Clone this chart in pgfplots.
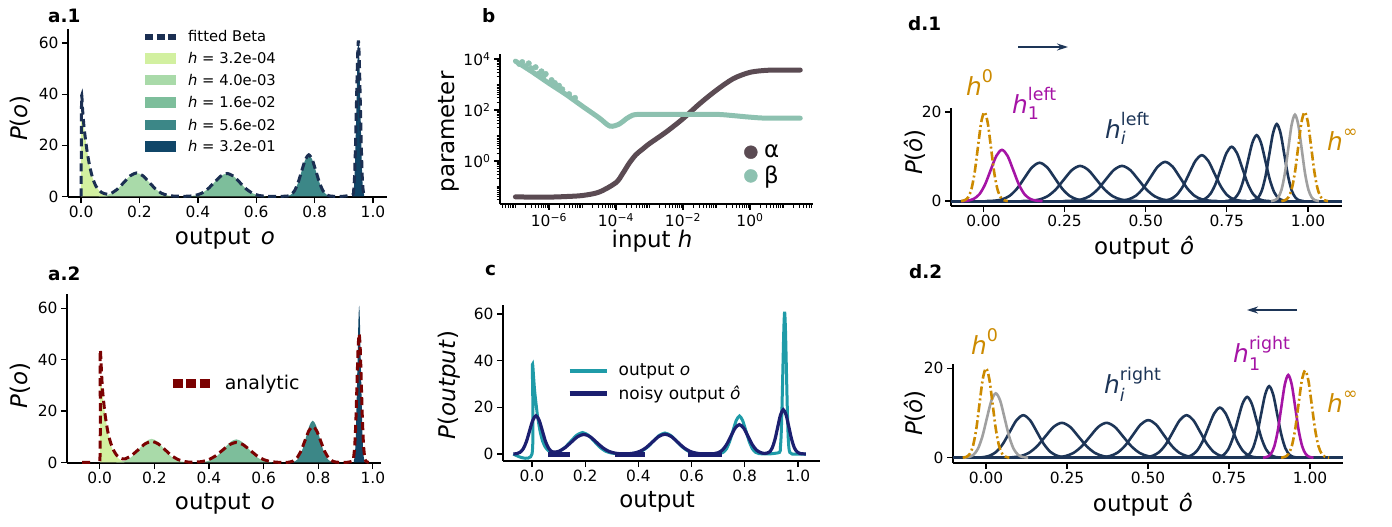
\documentclass[border=0pt]{standalone}
\usepackage{fontspec}
\setmainfont{DejaVu Sans}
\usepackage{amsmath}
\usepackage{pgfplots}
\pgfplotsset{compat=1.18}
\usetikzlibrary{arrows.meta}

\definecolor{cA}{HTML}{D2F0A0}
\definecolor{cB}{HTML}{A9DAA9}
\definecolor{cC}{HTML}{7DBE9B}
\definecolor{cD}{HTML}{3C8787}
\definecolor{cE}{HTML}{104668}
\definecolor{fitnavy}{HTML}{1B2F52}
\definecolor{anred}{HTML}{7B0202}
\definecolor{alphac}{HTML}{5B4B53}
\definecolor{betac}{HTML}{8DC1B0}
\definecolor{tealc}{HTML}{1F9BA8}
\definecolor{noisyc}{HTML}{1B1F70}
\definecolor{dnavy}{HTML}{1D3557}
\definecolor{dpurple}{HTML}{A514A5}
\definecolor{dorange}{HTML}{CC8A00}
\definecolor{dgray}{HTML}{A0A0A0}

\pgfplotsset{
  base/.style={
    scale only axis,
    anchor=south west,
    axis x line*=bottom, axis y line*=left,
    axis line style={-, line width=1.5bp, black},
    tick align=outside,
    major tick length=6bp,
    minor tick length=3.5bp,
    major tick style={line width=1.3bp, black},
    minor tick style={line width=0.9bp, black},
    tick label style={font=\fontsize{15.5}{18}\selectfont},
    label style={font=\fontsize{23}{27}\selectfont},
    xlabel style={anchor=center},
    ylabel style={anchor=center},
    /pgf/number format/assume math mode=true,
    legend cell align=left,
  },
  lin01/.style={xtick={0,0.2,0.4,0.6,0.8,1}, xticklabels={0.0,0.2,0.4,0.6,0.8,1.0},
    ytick={0,20,40,60}, yticklabels={0,20,40,60}},
  dax/.style={xtick={0,0.25,0.5,0.75,1}, xticklabels={0.00,0.25,0.50,0.75,1.00},
    ytick={0,20}, yticklabels={0,20}},
  navyc/.style={dnavy, line width=2.6bp, smooth, forget plot},
  dashdot/.style={dorange, line width=2.6bp, smooth, forget plot, dash pattern=on 9bp off 3bp on 2bp off 3bp},
}

\newcommand{\annot}[1]{\fontsize{25}{30}\selectfont #1}

\begin{document}
\begin{tikzpicture}
\useasboundingbox (0,0) rectangle (1392bp,-527bp);

% ---------------- a.1 ----------------
\begin{axis}[base, lin01,
  at={(68bp,-197bp)}, width=319bp, height=168bp,
  xmin=-0.045, xmax=1.048, ymin=-0.2, ymax=65.5,
  xlabel={output\hspace{0.45em}\textit{o}}, ylabel={\textit{P}(\textit{o})},
  xlabel style={at={(axis description cs:0.492,-0.25)}},
  ylabel style={at={(axis description cs:-0.15,0.47)}},
]
\addplot[fill=cA, draw=none, forget plot] coordinates {(0,0)(0,34)(0.005,31)(0.01,27)(0.02,18)(0.03,11.5)(0.04,7)(0.05,4.2)(0.06,2.5)(0.07,1.4)(0.08,0.7)(0.09,0.3)} \closedcycle;
\addplot[fill=cB, draw=none, smooth, forget plot] coordinates {(0.061,0.10)(0.0825,0.40)(0.104,1.24)(0.1255,2.99)(0.147,5.58)(0.1685,8.11)(0.19,9.2)(0.2115,8.11)(0.233,5.58)(0.2545,2.99)(0.276,1.24)(0.2975,0.40)(0.319,0.10)} \closedcycle;
\addplot[fill=cC, draw=none, smooth, forget plot] coordinates {(0.368,0.10)(0.39,0.40)(0.412,1.22)(0.434,2.93)(0.456,5.46)(0.478,7.94)(0.5,9.0)(0.522,7.94)(0.544,5.46)(0.566,2.93)(0.588,1.22)(0.61,0.40)(0.632,0.10)} \closedcycle;
\addplot[fill=cD, draw=none, smooth, forget plot] coordinates {(0.7065,0.18)(0.719,0.72)(0.731,2.20)(0.743,5.30)(0.7555,9.89)(0.768,14.38)(0.78,16.3)(0.792,14.38)(0.8045,9.89)(0.817,5.30)(0.829,2.20)(0.841,0.72)(0.8535,0.18)} \closedcycle;
\addplot[fill=cE, draw=none, smooth, forget plot] coordinates {(0.9305,0.67)(0.934,2.68)(0.937,8.24)(0.940,19.8)(0.9435,37.0)(0.947,53.8)(0.95,61)(0.953,53.8)(0.9565,37.0)(0.960,19.8)(0.963,8.24)(0.966,2.68)(0.9695,0.67)} \closedcycle;
\addplot[fitnavy, line width=3bp, dash pattern=on 8bp off 4.5bp, smooth, tension=0.4, forget plot] coordinates {(0,0)(0.0015,38.5)(0.005,34)(0.01,27)(0.02,18)(0.03,11.5)(0.04,7)(0.05,4.2)(0.06,2.6)(0.07,1.6)(0.08,1.1)(0.09,0.9)(0.104,1.3)(0.1255,2.99)(0.147,5.58)(0.1685,8.11)(0.19,9.2)(0.2115,8.11)(0.233,5.58)(0.2545,2.99)(0.276,1.24)(0.2975,0.45)(0.319,0.15)(0.345,0.08)(0.368,0.12)(0.39,0.40)(0.412,1.22)(0.434,2.93)(0.456,5.46)(0.478,7.94)(0.5,9.0)(0.522,7.94)(0.544,5.46)(0.566,2.93)(0.588,1.22)(0.61,0.40)(0.632,0.10)(0.67,0.02)(0.7065,0.18)(0.719,0.72)(0.731,2.20)(0.743,5.30)(0.7555,9.89)(0.768,14.38)(0.78,16.3)(0.792,14.38)(0.8045,9.89)(0.817,5.30)(0.829,2.20)(0.841,0.72)(0.8535,0.18)(0.89,0.02)(0.9305,0.67)(0.934,2.68)(0.937,8.24)(0.940,19.8)(0.9435,37.0)(0.947,53.8)(0.95,61)(0.953,53.8)(0.9565,37.0)(0.960,19.8)(0.963,8.24)(0.966,2.68)(0.9695,0.67)(0.975,0)};
\end{axis}

% legend of a.1
\draw[fitnavy, line width=6bp, dash pattern=on 8bp off 3.5bp] (145bp,-36.7bp) -- (176bp,-36.7bp);
\fill[cA] (145bp,-53bp) rectangle (176bp,-63.7bp);
\fill[cB] (145bp,-74.7bp) rectangle (176bp,-85.3bp);
\fill[cC] (145bp,-97.3bp) rectangle (176bp,-108bp);
\fill[cD] (145bp,-119.7bp) rectangle (176bp,-130.3bp);
\fill[cE] (145bp,-141.3bp) rectangle (176bp,-152bp);
\begin{scope}[every node/.style={font=\fontsize{14.8}{17}\selectfont, inner sep=0pt, anchor=base west}]
\node at (188bp,-41.7bp) {fitted Beta};
\node at (188bp,-63.3bp) {\textit{h} = 3.2e-04};
\node at (188bp,-85bp) {\textit{h} = 4.0e-03};
\node at (188bp,-107.7bp) {\textit{h} = 1.6e-02};
\node at (188bp,-130bp) {\textit{h} = 5.6e-02};
\node at (188bp,-151.7bp) {\textit{h} = 3.2e-01};
\end{scope}

% ---------------- a.2 ----------------
\begin{axis}[base, lin01,
  at={(67bp,-463bp)}, width=314bp, height=169bp,
  xmin=-0.12, xmax=1.03, ymin=-0.2, ymax=65.5,
  xlabel={output\hspace{0.45em}\textit{o}}, ylabel={\textit{P}(\textit{o})},
  xlabel style={at={(axis description cs:0.503,-0.243)}},
  ylabel style={at={(axis description cs:-0.15,0.46)}},
  legend style={at={(axis description cs:0.322,0.473)}, anchor=west, draw=none, fill=none,
    inner sep=0pt, outer sep=0pt, font=\fontsize{19}{22}\selectfont, nodes={inner sep=0pt}},
]
\addlegendimage{legend image code/.code={\draw[anred, line width=9bp, dash pattern=on 10bp off 3.5bp] (0bp,0bp) -- (37bp,0bp); \path (0bp,-6bp) (52bp,6bp);}}
\addlegendentry{analytic}
\addplot[fill=cA, draw=none, forget plot] coordinates {(0,0)(0,34)(0.005,31)(0.01,27)(0.02,18)(0.03,11.5)(0.04,7)(0.05,4.2)(0.06,2.5)(0.07,1.4)(0.08,0.7)(0.09,0.3)} \closedcycle;
\addplot[fill=cB, draw=none, smooth, forget plot] coordinates {(0.061,0.10)(0.0825,0.40)(0.104,1.24)(0.1255,2.99)(0.147,5.58)(0.1685,8.11)(0.19,9.2)(0.2115,8.11)(0.233,5.58)(0.2545,2.99)(0.276,1.24)(0.2975,0.40)(0.319,0.10)} \closedcycle;
\addplot[fill=cC, draw=none, smooth, forget plot] coordinates {(0.368,0.10)(0.39,0.40)(0.412,1.22)(0.434,2.93)(0.456,5.46)(0.478,7.94)(0.5,9.0)(0.522,7.94)(0.544,5.46)(0.566,2.93)(0.588,1.22)(0.61,0.40)(0.632,0.10)} \closedcycle;
\addplot[fill=cD, draw=none, smooth, forget plot] coordinates {(0.7065,0.18)(0.719,0.72)(0.731,2.20)(0.743,5.30)(0.7555,9.89)(0.768,14.38)(0.78,16.3)(0.792,14.38)(0.8045,9.89)(0.817,5.30)(0.829,2.20)(0.841,0.72)(0.8535,0.18)} \closedcycle;
\addplot[fill=cE, draw=none, smooth, forget plot] coordinates {(0.9305,0.67)(0.934,2.68)(0.937,8.24)(0.940,19.8)(0.9435,37.0)(0.947,53.8)(0.95,61)(0.953,53.8)(0.9565,37.0)(0.960,19.8)(0.963,8.24)(0.966,2.68)(0.9695,0.67)} \closedcycle;
\addplot[anred, line width=3bp, dash pattern=on 8bp off 4.5bp, smooth, tension=0.4, forget plot] coordinates {(-0.065,0)(-0.03,0)(0,0)(0.0015,42.5)(0.005,38)(0.01,28.3)(0.02,18.2)(0.03,11.7)(0.04,7.6)(0.05,4.9)(0.06,3.1)(0.07,2.0)(0.08,1.5)(0.0927,1.4)(0.117,2.8)(0.1413,4.98)(0.1657,7.23)(0.19,8.2)(0.2143,7.23)(0.2387,4.98)(0.263,2.67)(0.2874,1.11)(0.3118,0.36)(0.3361,0.1)(0.3725,0.34)(0.398,1.05)(0.4235,2.54)(0.449,4.73)(0.4745,6.88)(0.5,7.8)(0.5255,6.88)(0.551,4.73)(0.5765,2.54)(0.602,1.05)(0.6275,0.34)(0.653,0.09)(0.68,0.03)(0.6945,0.15)(0.7088,0.62)(0.723,1.89)(0.7373,4.55)(0.7515,8.50)(0.7658,12.35)(0.78,14)(0.7943,12.35)(0.8085,8.50)(0.8228,4.55)(0.837,1.89)(0.8513,0.62)(0.8655,0.15)(0.9,0.02)(0.926,0.55)(0.93,2.2)(0.934,6.75)(0.938,16.25)(0.942,30.35)(0.946,44.1)(0.95,50)(0.954,44.1)(0.958,30.35)(0.962,16.25)(0.966,6.75)(0.97,2.2)(0.974,0.55)(0.985,0)};
\end{axis}

% ---------------- b ----------------
\begin{axis}[base,
  at={(500bp,-204bp)}, width=313bp, height=150bp,
  xmode=log, ymode=log,
  xmin=3.47e-8, xmax=75.9, ymin=0.0204, ymax=15849,
  xtick={1e-6,1e-4,1e-2,1},
  xticklabels={10\textsuperscript{−6},10\textsuperscript{−4},10\textsuperscript{−2},10\textsuperscript{0}},
  ytick={1,100,10000},
  yticklabels={10\textsuperscript{0},10\textsuperscript{2},10\textsuperscript{4}},
  minor xtick={4e-8,5e-8,6e-8,7e-8,8e-8,9e-8,1e-7,2e-7,3e-7,4e-7,5e-7,6e-7,7e-7,8e-7,9e-7,2e-6,3e-6,4e-6,5e-6,6e-6,7e-6,8e-6,9e-6,1e-5,2e-5,3e-5,4e-5,5e-5,6e-5,7e-5,8e-5,9e-5,2e-4,3e-4,4e-4,5e-4,6e-4,7e-4,8e-4,9e-4,1e-3,2e-3,3e-3,4e-3,5e-3,6e-3,7e-3,8e-3,9e-3,2e-2,3e-2,4e-2,5e-2,6e-2,7e-2,8e-2,9e-2,0.1,0.2,0.3,0.4,0.5,0.6,0.7,0.8,0.9,2,3,4,5,6,7,8,9,10,20,30,40,50,60,70},
  minor ytick={0.03,0.04,0.05,0.06,0.07,0.08,0.09,0.1,0.2,0.3,0.4,0.5,0.6,0.7,0.8,0.9,2,3,4,5,6,7,8,9,10,20,30,40,50,60,70,80,90,200,300,400,500,600,700,800,900,1000,2000,3000,4000,5000,6000,7000,8000,9000},
  xlabel={input \textit{h}}, ylabel={parameter},
  xlabel style={at={(axis description cs:0.486,-0.247)}},
  ylabel style={at={(axis description cs:-0.163,0.48)}},
  legend style={at={(axis description cs:0.78,0.4)}, anchor=north west, draw=none, fill=none,
    inner sep=0pt, outer sep=0pt, row sep=6bp, font=\fontsize{23}{26}\selectfont, nodes={inner sep=0pt}},
]
\addlegendimage{legend image code/.code={\fill[alphac] (6.5bp,0bp) circle (6.5bp); \path (0bp,-8bp) (19.5bp,8bp);}}
\addlegendentry{α}
\addlegendimage{legend image code/.code={\fill[betac] (6.5bp,0bp) circle (6.5bp); \path (0bp,-8bp) (19.5bp,8bp);}}
\addlegendentry{β}
\addplot[alphac, line width=5bp, line cap=round, smooth, forget plot] coordinates {(1e-7,0.039)(3.16e-7,0.038)(1e-6,0.038)(3.16e-6,0.040)(1e-5,0.044)(3.16e-5,0.060)(1e-4,0.141)(1.58e-4,0.316)(2.51e-4,0.83)(3.98e-4,1.78)(6.31e-4,2.95)(1e-3,4.79)(3.16e-3,13.8)(1e-2,45.7)(3.16e-2,178)(0.1,603)(0.316,1700)(1,3020)(3.16,3630)(10,3720)(31.6,3720)};
\addplot[betac, line width=5bp, line cap=round, smooth, forget plot] coordinates {(1e-7,8318)(3.16e-7,3162)(1e-6,1122)(3.16e-6,417)(1e-5,141)(3.16e-5,49)(6.6e-5,23.4)(1.26e-4,28.2)(2e-4,44.7)(3.16e-4,63.1)(5e-4,67.6)(1e-3,67.6)(1e-2,67.6)(0.1,67.6)(0.316,60.3)(1,52.5)(3.16,47.9)(31.6,47.9)};
\addplot[betac, only marks, mark=*, mark size=2.8bp, forget plot] coordinates {(1.3e-7,6500)(1.6e-7,7600)(2e-7,5200)(2.5e-7,6800)(3e-7,4300)(4e-7,4800)(5e-7,2700)(6e-7,3300)(7e-7,2200)(8e-7,2600)(1.2e-6,1500)(1.5e-6,1150)(2e-6,900)(2.5e-6,650)(4e-6,420)(6e-6,300)};
\end{axis}

% ---------------- c ----------------
\begin{axis}[base, lin01,
  at={(503bp,-461bp)}, width=317bp, height=156bp,
  xmin=-0.109, xmax=1.083, ymin=-3, ymax=63.9,
  xlabel={output}, ylabel={\textit{P}(\textit{output})},
  xlabel style={at={(axis description cs:0.486,-0.263)}},
  ylabel style={at={(axis description cs:-0.17,0.487)}},
  legend style={at={(axis description cs:0.202,0.622)}, anchor=north west, draw=none, fill=none,
    inner sep=0pt, outer sep=0pt, row sep=9bp, font=\fontsize{17}{20}\selectfont, nodes={inner sep=0pt}},
]
\addlegendimage{legend image code/.code={\draw[tealc, line width=4bp] (0bp,0bp) -- (37bp,0bp); \path (0bp,-6bp) (49bp,6bp);}}
\addlegendentry{output \textit{o}}
\addlegendimage{legend image code/.code={\draw[noisyc, line width=5bp] (0bp,0bp) -- (37bp,0bp); \path (0bp,-6bp) (49bp,6bp);}}
\addlegendentry{noisy output \textit{ô}}
\addplot[tealc, line width=3bp, smooth, tension=0.4, forget plot] coordinates {(-0.07,0)(0,0)(0.0015,37.5)(0.006,33)(0.01,27)(0.02,17)(0.03,10)(0.04,5.5)(0.05,3)(0.06,1.6)(0.07,0.9)(0.08,0.6)(0.09,0.5)(0.104,1.24)(0.1255,2.99)(0.147,5.58)(0.1685,8.11)(0.19,9.2)(0.2115,8.11)(0.233,5.58)(0.2545,2.99)(0.276,1.24)(0.2975,0.45)(0.319,0.15)(0.345,0.08)(0.368,0.12)(0.39,0.40)(0.412,1.22)(0.434,2.93)(0.456,5.46)(0.478,7.94)(0.5,9.0)(0.522,7.94)(0.544,5.46)(0.566,2.93)(0.588,1.22)(0.61,0.40)(0.632,0.10)(0.67,0.02)(0.7065,0.18)(0.719,0.72)(0.731,2.20)(0.743,5.30)(0.7555,9.89)(0.768,14.38)(0.78,16.3)(0.792,14.38)(0.8045,9.89)(0.817,5.30)(0.829,2.20)(0.841,0.72)(0.8535,0.18)(0.89,0.02)(0.9305,0.67)(0.934,2.68)(0.937,8.24)(0.940,19.8)(0.9435,37.0)(0.947,53.8)(0.95,61)(0.953,53.8)(0.9565,37.0)(0.960,19.8)(0.963,8.24)(0.966,2.68)(0.9695,0.67)(0.978,0)(1.03,0)};
\addplot[noisyc, line width=3.2bp, smooth, forget plot] coordinates {(-0.07,0)(-0.057,0.18)(-0.045,0.72)(-0.033,2.21)(-0.021,5.33)(-0.009,9.95)(0.003,14.46)(0.015,16.4)(0.027,14.46)(0.039,9.95)(0.051,5.33)(0.063,2.4)(0.075,1.0)(0.087,0.8)(0.101,1.15)(0.1245,2.73)(0.148,5.10)(0.1715,7.41)(0.195,8.4)(0.2185,7.41)(0.242,5.10)(0.2655,2.73)(0.289,1.13)(0.3125,0.37)(0.336,0.09)(0.359,0.09)(0.3825,0.37)(0.406,1.15)(0.4295,2.76)(0.453,5.16)(0.4765,7.50)(0.5,8.5)(0.5235,7.50)(0.547,5.16)(0.5705,2.76)(0.594,1.15)(0.6175,0.37)(0.641,0.09)(0.684,0.14)(0.70,0.55)(0.716,1.70)(0.732,4.10)(0.748,7.65)(0.764,11.11)(0.78,12.6)(0.796,11.11)(0.812,7.65)(0.828,4.10)(0.844,1.70)(0.86,0.6)(0.876,0.25)(0.8925,0.84)(0.903,2.57)(0.9135,6.18)(0.924,11.53)(0.9345,16.76)(0.945,19)(0.9555,16.76)(0.966,11.53)(0.9765,6.18)(0.987,2.57)(0.9975,0.84)(1.008,0.21)(1.03,0)};
\addplot[noisyc, line width=4.5bp, forget plot] coordinates {(0.06,-0.3)(0.144,-0.3)};
\addplot[noisyc, line width=4.5bp, forget plot] coordinates {(0.312,-0.3)(0.425,-0.3)};
\addplot[noisyc, line width=4.5bp, forget plot] coordinates {(0.586,-0.3)(0.714,-0.3)};
\end{axis}

% ---------------- d.1 ----------------
\begin{axis}[base, dax,
  at={(951bp,-206bp)}, width=391bp, height=98bp,
  xmin=-0.1, xmax=1.105, ymin=-1.1, ymax=20.9,
  xlabel={output\hspace{0.45em}\textit{ô}}, ylabel={\textit{P}(\textit{ô})},
  xlabel style={at={(axis description cs:0.494,-0.43)}},
  ylabel style={at={(axis description cs:-0.092,0.55)}},
]
\addplot[dnavy, line width=3bp, forget plot] coordinates {(-0.1,0)(1.105,0)};
\addplot[navyc] coordinates {(0.006,0)(0.0338,0.09)(0.057,0.38)(0.0802,1.16)(0.1034,2.80)(0.1266,5.22)(0.1498,7.59)(0.173,8.6)(0.1962,7.59)(0.2194,5.22)(0.2426,2.80)(0.2658,1.16)(0.289,0.38)(0.3122,0.09)(0.34,0)};
\addplot[navyc] coordinates {(0.116,0)(0.1465,0.09)(0.1718,0.35)(0.197,1.07)(0.2223,2.57)(0.2475,4.80)(0.2728,6.97)(0.298,7.9)(0.3233,6.97)(0.3485,4.80)(0.3738,2.57)(0.399,1.07)(0.4243,0.35)(0.4495,0.09)(0.48,0)};
\addplot[navyc] coordinates {(0.245,0)(0.2755,0.09)(0.3008,0.35)(0.326,1.07)(0.3513,2.57)(0.3765,4.80)(0.4018,6.97)(0.427,7.9)(0.4523,6.97)(0.4775,4.80)(0.5028,2.57)(0.528,1.07)(0.5533,0.35)(0.5785,0.09)(0.609,0)};
\addplot[navyc] coordinates {(0.397,0)(0.4241,0.10)(0.4468,0.39)(0.4694,1.19)(0.4921,2.86)(0.5147,5.34)(0.5374,7.76)(0.56,8.8)(0.5827,7.76)(0.6053,5.34)(0.628,2.86)(0.6506,1.19)(0.6733,0.39)(0.6959,0.10)(0.723,0)};
\addplot[navyc] coordinates {(0.534,0)(0.5569,0.11)(0.5763,0.45)(0.5956,1.39)(0.615,3.35)(0.6343,6.25)(0.6537,9.08)(0.673,10.3)(0.6924,9.08)(0.7117,6.25)(0.7311,3.35)(0.7504,1.39)(0.7698,0.45)(0.7891,0.11)(0.812,0)};
\addplot[navyc] coordinates {(0.647,0)(0.6669,0.13)(0.6833,0.54)(0.6996,1.65)(0.716,3.97)(0.7323,7.41)(0.7487,10.76)(0.765,12.2)(0.7814,10.76)(0.7977,7.41)(0.8141,3.97)(0.8304,1.65)(0.8468,0.54)(0.8631,0.13)(0.883,0)};
\addplot[navyc] coordinates {(0.745,0)(0.761,0.16)(0.7745,0.65)(0.788,2.0)(0.8015,4.81)(0.815,8.98)(0.8285,13.05)(0.842,14.8)(0.8555,13.05)(0.869,8.98)(0.8825,4.81)(0.896,2.0)(0.9095,0.65)(0.923,0.16)(0.939,0)};
\addplot[navyc] coordinates {(0.821,0)(0.8347,0.19)(0.8463,0.76)(0.8578,2.34)(0.8694,5.62)(0.8809,10.5)(0.8925,15.26)(0.904,17.3)(0.9156,15.26)(0.9271,10.5)(0.9387,5.62)(0.9502,2.34)(0.9618,0.76)(0.9733,0.19)(0.987,0)};
\addplot[dgray, line width=2.6bp, smooth, forget plot] coordinates {(0.886,0)(0.8982,0.21)(0.9085,0.85)(0.9188,2.62)(0.9291,6.31)(0.9394,11.78)(0.9497,17.11)(0.96,19.4)(0.9703,17.11)(0.9806,11.78)(0.9909,6.31)(1.0012,2.62)(1.0115,0.85)(1.0218,0.21)(1.034,0)};
\addplot[dpurple, line width=2.6bp, smooth, forget plot] coordinates {(-0.068,0)(-0.0471,0.13)(-0.0298,0.51)(-0.0124,1.55)(0.005,3.74)(0.0223,6.98)(0.0397,10.14)(0.057,11.5)(0.0744,10.14)(0.0917,6.98)(0.1091,3.74)(0.1264,1.55)(0.1438,0.51)(0.1611,0.13)(0.182,0)};
\addplot[dashdot] coordinates {(-0.069,0)(-0.057,0.22)(-0.047,0.88)(-0.037,2.7)(-0.027,6.5)(-0.017,12.14)(-0.007,17.64)(0.003,20)(0.013,17.64)(0.023,12.14)(0.033,6.5)(0.043,2.7)(0.053,0.88)(0.063,0.22)(0.075,0)};
\addplot[dashdot] coordinates {(0.918,0)(0.93,0.22)(0.94,0.88)(0.95,2.7)(0.96,6.5)(0.97,12.14)(0.98,17.64)(0.99,20)(1.0,17.64)(1.01,12.14)(1.02,6.5)(1.03,2.7)(1.04,0.88)(1.05,0.22)(1.062,0)};
\end{axis}

% ---------------- d.2 ----------------
\begin{axis}[base, dax,
  at={(953bp,-463bp)}, width=390bp, height=99bp,
  xmin=-0.102, xmax=1.102, ymin=-1.19, ymax=20.96,
  xlabel={output\hspace{0.45em}\textit{ô}}, ylabel={\textit{P}(\textit{ô})},
  xlabel style={at={(axis description cs:0.487,-0.424)}},
  ylabel style={at={(axis description cs:-0.097,0.505)}},
]
\addplot[dnavy, line width=3bp, forget plot] coordinates {(-0.102,0)(1.102,0)};
\addplot[navyc] coordinates {(-0.036,0)(-0.011,0.10)(0.01,0.42)(0.031,1.28)(0.052,3.09)(0.073,5.77)(0.094,8.38)(0.115,9.5)(0.136,8.38)(0.157,5.77)(0.178,3.09)(0.199,1.28)(0.22,0.42)(0.241,0.10)(0.266,0)};
\addplot[navyc] coordinates {(0.05,0)(0.0804,0.09)(0.106,0.34)(0.1316,1.05)(0.1572,2.54)(0.1828,4.73)(0.2084,6.88)(0.234,7.8)(0.2596,6.88)(0.2852,4.73)(0.3108,2.54)(0.3364,1.05)(0.362,0.34)(0.3876,0.09)(0.418,0)};
\addplot[navyc] coordinates {(0.188,0)(0.2184,0.09)(0.244,0.34)(0.2696,1.05)(0.2952,2.54)(0.3208,4.73)(0.3464,6.88)(0.372,7.8)(0.3976,6.88)(0.4232,4.73)(0.4488,2.54)(0.4744,1.05)(0.5,0.34)(0.5256,0.09)(0.556,0)};
\addplot[navyc] coordinates {(0.33,0)(0.3585,0.09)(0.3823,0.37)(0.406,1.13)(0.4298,2.73)(0.4535,5.10)(0.4773,7.41)(0.501,8.4)(0.5248,7.41)(0.5485,5.10)(0.5723,2.73)(0.596,1.13)(0.6198,0.37)(0.6435,0.09)(0.672,0)};
\addplot[navyc] coordinates {(0.468,0)(0.493,0.10)(0.514,0.42)(0.535,1.28)(0.556,3.09)(0.577,5.77)(0.598,8.38)(0.619,9.5)(0.64,8.38)(0.661,5.77)(0.682,3.09)(0.703,1.28)(0.724,0.42)(0.745,0.10)(0.77,0)};
\addplot[navyc] coordinates {(0.594,0)(0.6152,0.12)(0.633,0.49)(0.6508,1.51)(0.6686,3.64)(0.6864,6.80)(0.7042,9.88)(0.722,11.2)(0.7398,9.88)(0.7576,6.80)(0.7754,3.64)(0.7932,1.51)(0.811,0.49)(0.8288,0.12)(0.85,0)};
\addplot[navyc] coordinates {(0.701,0)(0.7181,0.15)(0.7328,0.60)(0.7474,1.84)(0.7621,4.42)(0.7767,8.26)(0.7914,12.0)(0.806,13.6)(0.8207,12.0)(0.8353,8.26)(0.85,4.42)(0.8646,1.84)(0.8793,0.60)(0.8939,0.15)(0.911,0)};
\addplot[navyc] coordinates {(0.784,0)(0.7993,0.18)(0.8118,0.70)(0.8242,2.16)(0.8367,5.2)(0.8491,9.71)(0.8616,14.11)(0.874,16)(0.8865,14.11)(0.8989,9.71)(0.9114,5.2)(0.9238,2.16)(0.9363,0.70)(0.9487,0.18)(0.964,0)};
\addplot[dgray, line width=2.6bp, smooth, forget plot] coordinates {(-0.07,0)(-0.0531,0.16)(-0.0393,0.63)(-0.0254,1.94)(-0.0116,4.68)(0.0023,8.74)(0.0162,12.7)(0.03,14.4)(0.0439,12.7)(0.0577,8.74)(0.0716,4.68)(0.0854,1.94)(0.0993,0.63)(0.1131,0.16)(0.13,0)};
\addplot[dpurple, line width=2.6bp, smooth, forget plot] coordinates {(0.855,0)(0.8682,0.20)(0.879,0.81)(0.8898,2.50)(0.9006,6.01)(0.9114,11.23)(0.9222,16.32)(0.933,18.5)(0.9438,16.32)(0.9546,11.23)(0.9654,6.01)(0.9762,2.50)(0.987,0.81)(0.9978,0.20)(1.011,0)};
\addplot[dashdot] coordinates {(-0.072,0)(-0.06,0.22)(-0.05,0.88)(-0.04,2.7)(-0.03,6.5)(-0.02,12.14)(-0.01,17.64)(0,20)(0.01,17.64)(0.02,12.14)(0.03,6.5)(0.04,2.7)(0.05,0.88)(0.06,0.22)(0.072,0)};
\addplot[dashdot] coordinates {(0.911,0)(0.9235,0.21)(0.9338,0.86)(0.944,2.63)(0.9543,6.34)(0.9645,11.84)(0.9748,17.2)(0.985,19.5)(0.9953,17.2)(1.0055,11.84)(1.0158,6.34)(1.026,2.63)(1.0363,0.86)(1.0465,0.21)(1.059,0)};
\end{axis}

% ---------------- panel titles ----------------
\begin{scope}[every node/.style={font=\fontsize{18.5}{22}\selectfont\bfseries, inner sep=0pt, anchor=base west}]
\node at (48bp,-22bp) {a.1};
\node at (48bp,-280bp) {a.2};
\node at (482bp,-22bp) {b};
\node at (485bp,-275bp) {c};
\node at (908bp,-30bp) {d.1};
\node at (909bp,-278bp) {d.2};
\end{scope}

% ---------------- annotations d ----------------
\begin{scope}[every node/.style={inner sep=0pt, anchor=base west}]
\node[dorange] at (966bp,-95bp) {\annot{$\text{\itshape h}^{\text{0}}$}};
\node[dpurple] at (1012bp,-113bp) {\annot{$\text{\itshape h}^{\text{left}}_{\text{1}}$}};
\node[dnavy] at (1105bp,-138bp) {\annot{$\text{\itshape h}^{\text{left}}_{\text{\itshape i}}$}};
\node[dorange] at (1327bp,-150bp) {\annot{$\text{\itshape h}^{\text{∞}}$}};
\node[dorange] at (971bp,-354bp) {\annot{$\text{\itshape h}^{\text{0}}$}};
\node[dnavy] at (1104bp,-393bp) {\annot{$\text{\itshape h}^{\text{right}}_{\text{\itshape i}}$}};
\node[dpurple] at (1233bp,-362bp) {\annot{$\text{\itshape h}^{\text{right}}_{\text{1}}$}};
\node[dorange] at (1327bp,-412bp) {\annot{$\text{\itshape h}^{\text{∞}}$}};
\end{scope}
\draw[dnavy, line width=1.4bp, -{Stealth[length=11bp,width=7bp]}] (1018bp,-47bp) -- (1068bp,-47bp);
\draw[dnavy, line width=1.4bp, -{Stealth[length=11bp,width=7bp]}] (1297bp,-310bp) -- (1247bp,-310bp);
\end{tikzpicture}
\end{document}
